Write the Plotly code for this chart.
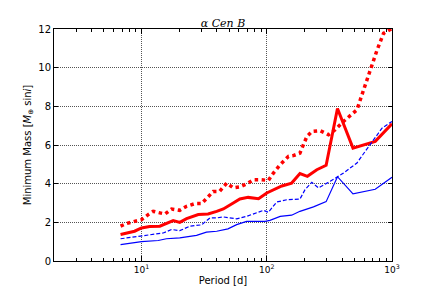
import plotly.graph_objects as go

# Red dotted (upper, thick dotted)
p_red_dot = [6.8, 7.6, 8.8, 10, 11.3, 12.4, 14, 15.4, 17.4, 20.2, 22.9, 26.7, 30.2, 33.1, 37.4, 42, 47.9, 54, 61, 71, 78, 90, 103, 113, 128, 149, 163, 184, 209, 229, 267, 311, 352, 410, 525, 593, 670, 759, 857, 912, 1000]
m_red_dot = [1.8, 1.94, 2.05, 2.14, 2.4, 2.57, 2.49, 2.43, 2.69, 2.62, 2.83, 2.97, 2.97, 3.26, 3.6, 3.6, 4.03, 3.78, 3.83, 4.03, 4.2, 4.2, 4.17, 4.55, 4.98, 5.41, 5.45, 5.58, 6.44, 6.7, 6.74, 6.53, 6.79, 7.22, 7.82, 8.85, 9.88, 10.9, 11.78, 11.9, 12.03]

# Red solid (thick)
p_red = [6.8, 8.8, 10, 11.6, 14, 15.8, 17.9, 20.2, 22.9, 28.4, 34, 39.8, 45, 54, 61, 71, 86, 100, 113, 132, 158, 184, 211, 251, 298, 367, 488, 735, 1000]
m_red = [1.37, 1.54, 1.71, 1.78, 1.8, 1.94, 2.09, 2.0, 2.19, 2.4, 2.43, 2.57, 2.69, 3.0, 3.21, 3.29, 3.22, 3.52, 3.66, 3.88, 4.03, 4.52, 4.38, 4.72, 4.95, 7.89, 5.84, 6.19, 7.1]

# Blue dashed (thin)
p_blue_dash = [6.8, 8.8, 10, 11.6, 14.9, 17.4, 20.2, 24.3, 30.2, 35.2, 40, 45, 57.5, 69, 83, 94, 103, 120, 145, 184, 202, 229, 259, 285, 321, 410, 525, 611, 712, 832, 1000]
m_blue_dash = [1.15, 1.25, 1.32, 1.37, 1.45, 1.63, 1.57, 1.8, 1.87, 2.23, 2.23, 2.28, 2.18, 2.31, 2.52, 2.62, 2.52, 3.05, 3.17, 3.2, 3.69, 4.07, 3.78, 3.95, 4.12, 4.55, 5.07, 5.67, 6.27, 6.87, 7.22]

# Blue solid (thin)
p_blue = [6.8, 10, 13.6, 15.8, 20.2, 27.5, 33, 39.8, 49, 57.5, 69, 97, 106, 128, 158, 184, 236, 298, 367, 488, 735, 1000]
m_blue = [0.85, 1.0, 1.06, 1.15, 1.2, 1.33, 1.49, 1.54, 1.66, 1.88, 2.05, 2.05, 2.1, 2.31, 2.37, 2.57, 2.8, 3.07, 4.36, 3.47, 3.71, 4.33]

x_tickvals = [10, 100, 1000]
x_ticktext = ["10<sup>1</sup>", "10<sup>2</sup>", "10<sup>3</sup>"]
x_minor = [2, 3, 4, 5, 6, 7, 8, 9, 20, 30, 40, 50, 60, 70, 80, 90, 200, 300, 400, 500, 600, 700, 800, 900]

fig = go.Figure()
fig.add_trace(go.Scatter(x=p_red_dot, y=m_red_dot, mode="lines",
                         line=dict(color="#ff0000", width=3.5, dash="dot")))
fig.add_trace(go.Scatter(x=p_red, y=m_red, mode="lines",
                         line=dict(color="#ff0000", width=3)))
fig.add_trace(go.Scatter(x=p_blue_dash, y=m_blue_dash, mode="lines",
                         line=dict(color="#0000ff", width=1.2, dash="4px,2px")))
fig.add_trace(go.Scatter(x=p_blue, y=m_blue, mode="lines",
                         line=dict(color="#0000ff", width=1.2)))

fig.update_layout(
    width=428, height=283,
    margin=dict(l=46, r=44, t=21, b=30),
    paper_bgcolor="white", plot_bgcolor="white",
    showlegend=False,
    font=dict(family="DejaVu Sans", size=10, color="black"),
    title=dict(text="<i>α Cen B</i>", x=0.5, xanchor="center", xref="paper",
               y=1, yref="paper", yanchor="bottom", pad=dict(b=2),
               font=dict(family="DejaVu Serif", size=11)),
)
fig.update_xaxes(
    type="log", range=[0.30103, 3], automargin=False,
    tickmode="array", tickvals=x_tickvals, ticktext=x_ticktext,
    ticks="inside", ticklen=5, tickcolor="black",
    showline=True, linecolor="black", linewidth=1, mirror="allticks",
    showgrid=True, gridcolor="#555", griddash="1px,1px", gridwidth=1,
    zeroline=False,
    minor=dict(tickmode="array", tickvals=x_minor, ticks="inside", ticklen=3,
               tickcolor="black", showgrid=False),
    title=dict(text="Period [d]", standoff=3, font=dict(size=10)),
    tickfont=dict(size=9),
)
fig.update_yaxes(
    range=[0, 12], dtick=2, tick0=0, automargin=False,
    ticks="inside", ticklen=4, tickcolor="black",
    showline=True, linecolor="black", linewidth=1, mirror="allticks",
    showgrid=True, gridcolor="#555", griddash="1px,1px", gridwidth=1,
    zeroline=False,
    title=dict(text="Minimum Mass [<i>M</i><sub>⊕</sub> sin<i>i</i>]", standoff=4, font=dict(size=10)),
    tickfont=dict(size=10),
)

fig.write_html("out.html")
